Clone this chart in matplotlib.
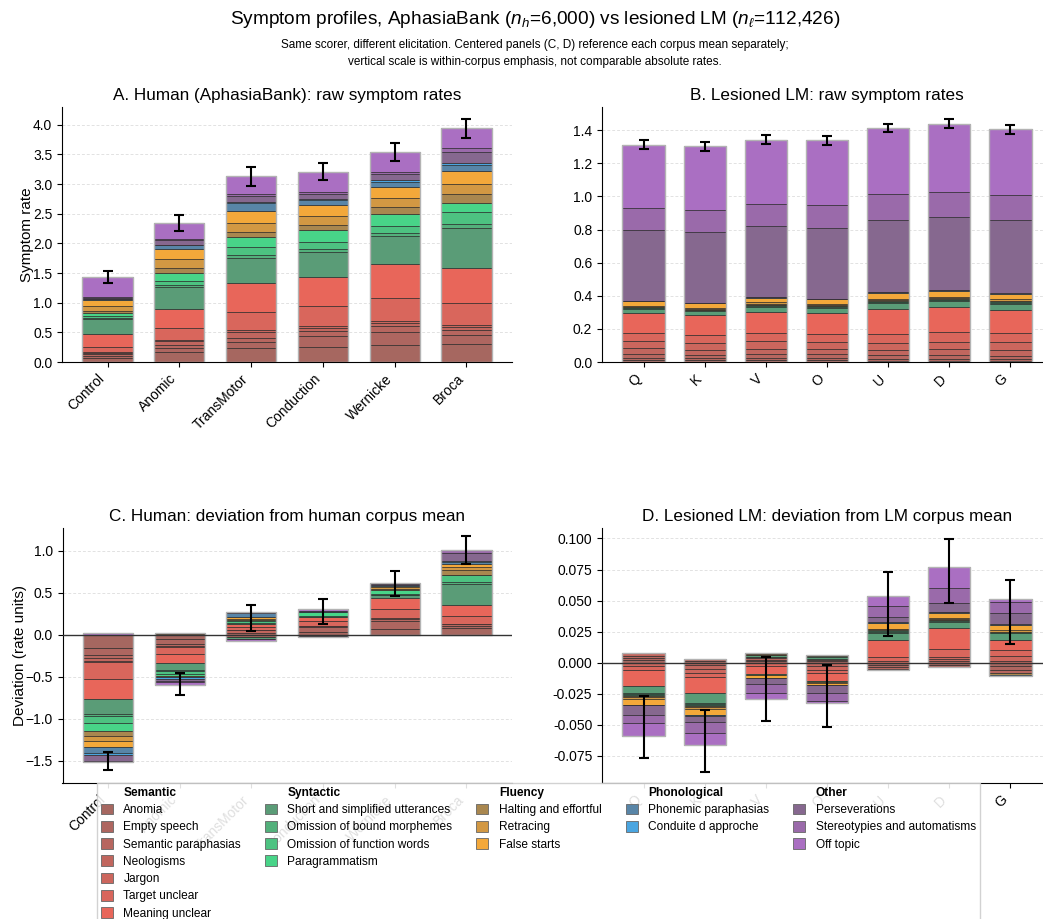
import numpy as np
import matplotlib
matplotlib.use("Agg")
import matplotlib.pyplot as plt
from matplotlib.patches import Patch

plt.rcParams["font.family"] = ["Liberation Sans", "DejaVu Sans"]
plt.rcParams["mathtext.fontset"] = "custom"
plt.rcParams["mathtext.rm"] = "Liberation Sans"
plt.rcParams["mathtext.it"] = "Liberation Sans:italic"
plt.rcParams["axes.unicode_minus"] = True

# ---------------------------------------------------------------- data
symptom_groups = ["Semantic", "Syntactic", "Fluency", "Phonological", "Other"]
semantic = ["Anomia", "Empty speech", "Semantic paraphasias", "Neologisms",
            "Jargon", "Target unclear", "Meaning unclear"]
syntactic = ["Short and simplified utterances", "Omission of bound morphemes",
             "Omission of function words", "Paragrammatism"]
fluency = ["Halting and effortful", "Retracing", "False starts"]
phonological = ["Phonemic paraphasias", "Conduite d approche"]
other = ["Perseverations", "Stereotypies and automatisms", "Off topic"]

semantic_colors = ["#a66760", "#ae6660", "#b7665f", "#c1665e", "#cc665d", "#d9665c", "#e8665a"]
syntactic_colors = ["#5a9c77", "#53b07b", "#4dc281", "#48d488"]
fluency_colors = ["#a9874f", "#d29843", "#f3a83a"]
phonological_colors = ["#5885a7", "#4aa5e0"]
other_colors = ["#86688f", "#9a6aaa", "#aa6fc2"]

human_groups = ["Control", "Anomic", "TransMotor", "Conduction", "Wernicke", "Broca"]
# symptom rates per aphasia type, in symptom order
human_control = [0.068, 0.030, 0.030, 0.030, 0.011, 0.084, 0.214, 0.259, 0.011, 0.034,
                 0.056, 0.034, 0.084, 0.101, 0.008, 0.003, 0.020, 0.020, 0.332]
human_anomic = [0.169, 0.060, 0.050, 0.073, 0.017, 0.197, 0.332, 0.360, 0.034, 0.068,
                0.135, 0.090, 0.146, 0.169, 0.073, 0.005, 0.073, 0.022, 0.270]
human_transmotor = [0.242, 0.096, 0.068, 0.100, 0.028, 0.310, 0.490, 0.416, 0.050, 0.140,
                    0.163, 0.096, 0.146, 0.197, 0.140, 0.017, 0.107, 0.028, 0.298]
human_conduction = [0.253, 0.180, 0.084, 0.056, 0.028, 0.338, 0.495, 0.428, 0.045, 0.118,
                    0.197, 0.096, 0.141, 0.186, 0.084, 0.022, 0.090, 0.028, 0.338]
human_wernicke = [0.287, 0.219, 0.096, 0.056, 0.039, 0.383, 0.574, 0.473, 0.051, 0.118,
                  0.203, 0.107, 0.163, 0.186, 0.079, 0.028, 0.113, 0.034, 0.332]
human_broca = [0.304, 0.146, 0.084, 0.056, 0.034, 0.371, 0.585, 0.680, 0.068, 0.197,
               0.152, 0.158, 0.169, 0.214, 0.107, 0.034, 0.186, 0.068, 0.326]
human_err = [0.104, 0.132, 0.158, 0.146, 0.149, 0.163]

lm_groups = ["Q", "K", "V", "O", "U", "D", "G"]
# LM corpus mean profile, in symptom order
lm_mean_profile = [0.010, 0.012, 0.022, 0.033, 0.045, 0.050, 0.135, 0.030, 0.005, 0.004,
                   0.003, 0.005, 0.008, 0.031, 0.002, 0.0005, 0.434, 0.1424, 0.393]
# per-lesion deviation from the LM corpus mean
lm_dev_q = [0.0020, 0.0015, 0.0020, 0.0020, -0.0030, -0.0030, -0.0125, -0.0060, -0.0008, -0.0006,
            -0.0006, -0.0010, -0.0015, -0.0050, -0.0003, -0.0001, -0.0080, -0.0060, -0.0105]
lm_dev_k = [0.0015, 0.0012, -0.0019, -0.0035, -0.0030, -0.0030, -0.0133, -0.0080, -0.0008, -0.0007,
            -0.0005, -0.0012, -0.0015, -0.0048, -0.0002, -0.0001, -0.0051, -0.0086, -0.0097]
lm_dev_v = [0.0012, 0.0012, 0.0010, 0.0008, 0.0005, -0.0030, -0.0060, 0.0015, 0.0004, -0.0005,
            -0.0005, 0.0008, 0.0008, -0.0022, -0.0003, 0.0, -0.0048, -0.0073, -0.0048]
lm_dev_o = [0.0010, 0.0012, 0.0008, -0.0025, -0.0030, -0.0030, -0.0060, 0.0016, 0.0005, -0.0006,
            -0.0006, 0.0008, -0.0010, -0.0010, -0.0003, 0.0, -0.0060, -0.0070, -0.0018]
lm_dev_u = [-0.0018, -0.0014, -0.0015, -0.0015, 0.0015, 0.0030, 0.0140, 0.0056, 0.0008, 0.0006,
            0.0012, 0.0003, 0.0005, 0.0046, 0.0002, 0.0001, 0.0045, 0.0091, 0.0075]
lm_dev_d = [-0.0018, -0.0014, 0.0012, 0.0015, 0.0022, 0.0065, 0.0167, 0.0046, 0.0008, 0.0006,
            0.0005, 0.0005, 0.0007, 0.0040, 0.0008, 0.0002, 0.0073, 0.0121, 0.0169]
lm_dev_g = [-0.0030, -0.0025, -0.0025, 0.0017, 0.0040, 0.0045, 0.0078, 0.0056, 0.0006, 0.0005,
            0.0004, -0.0018, 0.0010, 0.0040, 0.0008, -0.0005, 0.0094, 0.0083, 0.0025]
lm_err = [0.025, 0.025, 0.026, 0.025, 0.026, 0.026, 0.026]

# ---------------------------------------------------------------- derived tables
symptoms = semantic + syntactic + fluency + phonological + other
colors = semantic_colors + syntactic_colors + fluency_colors + phonological_colors + other_colors
group_members = [semantic, syntactic, fluency, phonological, other]
group_colors = [semantic_colors, syntactic_colors, fluency_colors, phonological_colors, other_colors]

human_raw = np.array([human_control, human_anomic, human_transmotor,
                      human_conduction, human_wernicke, human_broca])
human_dev = human_raw - human_raw.mean(axis=0)

lm_dev = np.array([lm_dev_q, lm_dev_k, lm_dev_v, lm_dev_o, lm_dev_u, lm_dev_d, lm_dev_g])
lm_raw = np.array(lm_mean_profile)[None, :] + lm_dev

# ---------------------------------------------------------------- figure
W, H = 1043, 919
fig = plt.figure(figsize=(W / 100, H / 100), dpi=100)


def box(left, top, right, bottom):
    return [left / W, 1 - bottom / H, (right - left) / W, (bottom - top) / H]


SEG_EDGE = (0.15, 0.15, 0.15, 0.65)
OUTLINE = "#b3b3b3"
WIDTH = 0.7


def stacked(ax, values, err):
    n = values.shape[0]
    x = np.arange(n)
    pos_base = np.zeros(n)
    neg_base = np.zeros(n)
    for j in range(values.shape[1]):
        for i in range(n):
            v = values[i, j]
            if v > 0:
                ax.bar(x[i], v, bottom=pos_base[i], width=WIDTH, color=colors[j],
                       edgecolor=SEG_EDGE, linewidth=0.7, zorder=2)
                pos_base[i] += v
            elif v < 0:
                ax.bar(x[i], v, bottom=neg_base[i], width=WIDTH, color=colors[j],
                       edgecolor=SEG_EDGE, linewidth=0.7, zorder=2)
                neg_base[i] += v
    ax.bar(x, pos_base - neg_base, bottom=neg_base, width=WIDTH, fill=False,
           edgecolor=OUTLINE, linewidth=1.0, zorder=3)
    net = values.sum(axis=1)
    ax.errorbar(x, net, yerr=err, fmt="none", ecolor="black", elinewidth=1.5,
                capsize=3.5, capthick=1.5, zorder=5)
    return x


def style(ax, labels, x, title):
    ax.set_title(title, fontsize=12.3, pad=5)
    ax.set_xticks(x)
    ax.set_xticklabels(labels, rotation=45, ha="right", fontsize=10)
    ax.tick_params(axis="y", labelsize=10)
    ax.spines["top"].set_visible(False)
    ax.spines["right"].set_visible(False)
    ax.yaxis.grid(True, linestyle=(0, (3, 2)), color="#e2e2e2", linewidth=0.7)
    ax.set_axisbelow(True)


axA = fig.add_axes(box(62, 107, 512, 362))
xA = stacked(axA, human_raw, human_err)
style(axA, human_groups, xA, "A. Human (AphasiaBank): raw symptom rates")
axA.set_xlim(-0.635, 5.635)
axA.set_ylim(0, 4.30)
axA.set_yticks(np.arange(0, 4.01, 0.5))
axA.set_ylabel("Symptom rate", fontsize=11, labelpad=-1)

axB = fig.add_axes(box(602, 107, 1052, 362))
xB = stacked(axB, lm_raw, lm_err)
style(axB, lm_groups, xB, "B. Lesioned LM: raw symptom rates")
axB.set_xlim(-0.685, 6.685)
axB.set_ylim(0, 1.54)
axB.set_yticks(np.arange(0, 1.41, 0.2))

axC = fig.add_axes(box(62.5, 528, 512, 783))
xC = stacked(axC, human_dev, human_err)
style(axC, human_groups, xC, "C. Human: deviation from human corpus mean")
axC.axhline(0, color="#333333", linewidth=1.0, zorder=4)
axC.set_xlim(-0.635, 5.635)
axC.set_ylim(-1.765, 1.27)
axC.set_yticks(np.arange(-1.5, 1.01, 0.5))
axC.set_ylabel("Deviation (rate units)", fontsize=11, labelpad=-1)

axD = fig.add_axes(box(602, 528, 1052, 783))
xD = stacked(axD, lm_dev, lm_err)
style(axD, lm_groups, xD, "D. Lesioned LM: deviation from LM corpus mean")
axD.axhline(0, color="#333333", linewidth=1.0, zorder=4)
axD.set_xlim(-0.685, 6.685)
axD.set_ylim(-0.0968, 0.1084)
axD.set_yticks(np.arange(-0.075, 0.1001, 0.025))
axD.yaxis.set_major_formatter(matplotlib.ticker.FormatStrFormatter("%.3f"))

# ---------------------------------------------------------------- titles
XC = 535 / W
fig.text(XC, 1 - 19 / H,
         r"Symptom profiles, AphasiaBank ($n_h$=6,000) vs lesioned LM ($n_\ell$=112,426)",
         ha="center", va="center", fontsize=13.7)
fig.text(XC, 1 - 45 / H,
         "Same scorer, different elicitation. Centered panels (C, D) reference each corpus mean separately;",
         ha="center", va="center", fontsize=8.45)
fig.text(XC, 1 - 62 / H,
         "vertical scale is within-corpus emphasis, not comparable absolute rates.",
         ha="center", va="center", fontsize=8.45)

# ---------------------------------------------------------------- legend
rows = 8
handles, labels, headers = [], [], []
for gname, members, gcols in zip(symptom_groups, group_members, group_colors):
    handles.append(Patch(facecolor="none", edgecolor="none"))
    labels.append(gname)
    headers.append(len(labels) - 1)
    for m, c in zip(members, gcols):
        handles.append(Patch(facecolor=c, edgecolor="#666666", linewidth=0.6))
        labels.append(m)
    for _ in range(rows - 1 - len(members)):
        handles.append(Patch(facecolor="none", edgecolor="none"))
        labels.append("")

leg = fig.legend(handles, labels, loc="upper left",
                 bbox_to_anchor=(97 / W, 1 - 783 / H), borderaxespad=0.0,
                 ncol=5, fontsize=8.6,
                 frameon=True, framealpha=0.88, edgecolor="#cccccc", fancybox=False,
                 handlelength=1.0, handleheight=1.0, handletextpad=0.9,
                 columnspacing=2.0, labelspacing=0.40, borderpad=0.3)
for k, t in enumerate(leg.get_texts()):
    if k in headers:
        t.set_fontweight("bold")

fig.savefig("out.png", dpi=100)
